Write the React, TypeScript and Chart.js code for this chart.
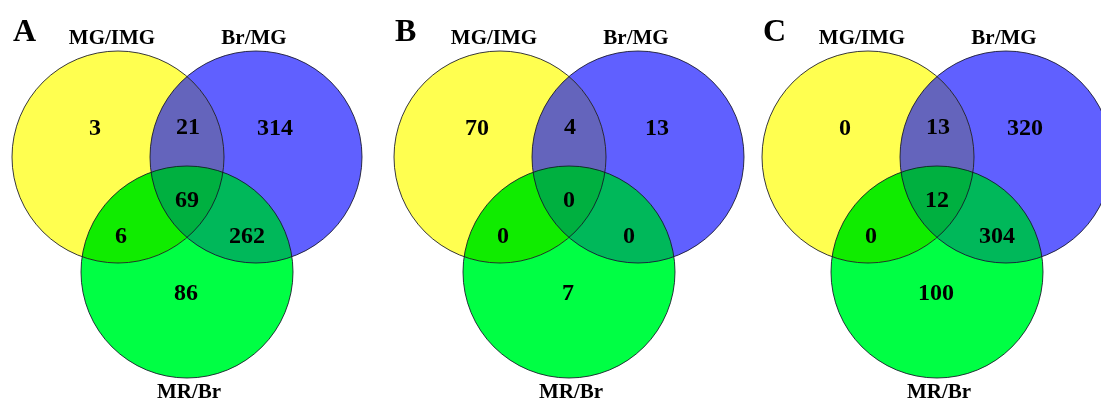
import React, { useEffect, useRef } from "react";
import { Chart, registerables } from "chart.js";

Chart.register(...registerables);

// ---- data ----
const panelLetters = ["A", "B", "C"];
const setNames = ["MG/IMG", "Br/MG", "MR/Br"];
const onlyMG = [3, 70, 0];
const onlyBr = [314, 13, 320];
const onlyMR = [86, 7, 100];
const mgBr = [21, 4, 13];
const mgMR = [6, 0, 0];
const brMR = [262, 0, 304];
const allThree = [69, 0, 12];

// ---- layout ----
const W = 1101;
const H = 401;
const panelCenters = [187, 569, 937];
const circleTemplate = [
  { dx: -69, y: 157 },
  { dx: 69, y: 157 },
  { dx: 0, y: 272 },
];
const R = 106;
const setColors = ["#ffff50", "#6060ff", "#00ff44"];
const colMgBr = "#6464bc";
const colMgMR = "#10ec00";
const colBrMR = "#00b85a";
const colAll = "#00b040";
const FONT = '"Liberation Serif", "Times New Roman", serif';

// region label anchors (relative to panel center)
const regionTemplate = [
  { dx: -92, y: 127 },
  { dx: 1, y: 126 },
  { dx: 88, y: 127 },
  { dx: 0, y: 199 },
  { dx: -66, y: 235 },
  { dx: 60, y: 235 },
  { dx: -1, y: 292 },
];
const setLabelTemplate = [
  { dx: -75, y: 44 },
  { dx: 67, y: 44 },
  { dx: 2, y: 398 },
];

const vennPlugin = {
  id: "vennOverlay",
  afterDatasetsDraw(chart: any) {
    const ctx = chart.ctx as CanvasRenderingContext2D;
    const xs = chart.scales.x;
    const ys = chart.scales.y;
    const metas = [0, 1, 2].map((i) => chart.getDatasetMeta(i));
    for (let p = 0; p < panelLetters.length; p++) {
      const c = metas.map((m: any) => {
        const el = m.data[p];
        return { x: el.x, y: el.y, r: el.options.radius };
      });
      const circ = (k: number) => {
        ctx.beginPath();
        ctx.arc(c[k].x, c[k].y, c[k].r, 0, Math.PI * 2);
      };
      const fillIn = (clips: number[], k: number, color: string) => {
        ctx.save();
        clips.forEach((ci) => {
          circ(ci);
          ctx.clip();
        });
        circ(k);
        ctx.fillStyle = color;
        ctx.fill();
        ctx.restore();
      };
      fillIn([0], 1, colMgBr);
      fillIn([0], 2, colMgMR);
      fillIn([1], 2, colBrMR);
      fillIn([0, 1], 2, colAll);
      ctx.save();
      ctx.lineWidth = 1;
      ctx.strokeStyle = "rgba(20,20,40,0.85)";
      for (let k = 0; k < 3; k++) {
        circ(k);
        ctx.stroke();
      }
      ctx.restore();

      const cx = panelCenters[p];
      ctx.save();
      ctx.fillStyle = "#000";
      ctx.textAlign = "center";
      ctx.textBaseline = "alphabetic";
      ctx.font = `bold 24px ${FONT}`;
      const vals = [onlyMG[p], mgBr[p], onlyBr[p], allThree[p], mgMR[p], brMR[p], onlyMR[p]];
      vals.forEach((v, i) => {
        const t = regionTemplate[i];
        ctx.fillText(String(v), xs.getPixelForValue(cx + t.dx), ys.getPixelForValue(t.y) + 8);
      });
      ctx.font = `bold 21px ${FONT}`;
      setNames.forEach((s, i) => {
        const t = setLabelTemplate[i];
        ctx.fillText(s, xs.getPixelForValue(cx + t.dx), ys.getPixelForValue(t.y));
      });
      ctx.font = `bold 32px ${FONT}`;
      ctx.textAlign = "left";
      ctx.fillText(panelLetters[p], xs.getPixelForValue(cx - 174), ys.getPixelForValue(41));
      ctx.restore();
    }
  },
};

export default function App() {
  const ref = useRef<HTMLCanvasElement | null>(null);
  useEffect(() => {
    document.body.style.margin = "0";
    if (!ref.current) return;
    const datasets = setNames.map((name, k) => ({
      label: name,
      data: panelCenters.map((pc) => ({
        x: pc + circleTemplate[k].dx,
        y: circleTemplate[k].y,
        r: R,
      })),
      backgroundColor: setColors[k],
      borderWidth: 0,
      hoverRadius: 0,
      clip: false as any,
    }));
    const chart = new Chart(ref.current, {
      type: "bubble",
      data: { datasets },
      options: {
        animation: false,
        responsive: false,
        maintainAspectRatio: false,
        events: [],
        layout: { padding: 0, autoPadding: false },
        scales: {
          x: { type: "linear", min: 0, max: W, display: false },
          y: { type: "linear", min: 0, max: H, reverse: true, display: false },
        },
        plugins: {
          legend: { display: false },
          tooltip: { enabled: false },
        },
      },
      plugins: [vennPlugin],
    });
    return () => chart.destroy();
  }, []);
  return (
    <div style={{ width: W, height: H, background: "#fff" }}>
      <canvas ref={ref} width={W} height={H} style={{ display: "block" }} />
    </div>
  );
}
